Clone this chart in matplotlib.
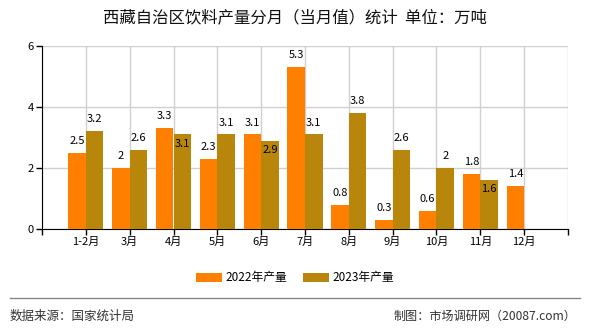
import matplotlib
matplotlib.use("Agg")
import matplotlib.pyplot as plt
import numpy as np

plt.rcParams['font.family'] = ['Noto Sans CJK SC', 'DejaVu Sans']

categories = ["1-2月", "3月", "4月", "5月", "6月", "7月", "8月", "9月", "10月", "11月", "12月"]
v2022 = [2.5, 2, 3.3, 2.3, 3.1, 5.3, 0.8, 0.3, 0.6, 1.8, 1.4]
v2023 = [3.2, 2.6, 3.1, 3.1, 2.9, 3.1, 3.8, 2.6, 2, 1.6, None]
yticks = [0, 2, 4, 6]

c22 = "#FF8000"
c23 = "#B8860B"

fig = plt.figure(figsize=(5.9, 3.3), dpi=100)
ax = fig.add_axes([42/590, 1-229/330, (568-42)/590, (229-46)/330])

x = np.arange(len(categories))
w = 0.4
ax.bar(x - w/2, v2022, width=w, color=c22, label="2022年产量", zorder=3)
x23 = [xi for xi, v in zip(x, v2023) if v is not None]
y23 = [v for v in v2023 if v is not None]
ax.bar(np.array(x23) + w/2, y23, width=w, color=c23, label="2023年产量", zorder=3)

def fmt(v):
    return ("%g" % v)

for xi, a in zip(x, v2022):
    ax.annotate(fmt(a), (xi - w/2, a), xytext=(0, 5), textcoords="offset points",
                ha="center", va="bottom", fontsize=8, zorder=4)
for xi, a, b in zip(x, v2022, v2023):
    if b is None:
        continue
    if a > b and a - b < 0.5:
        ax.annotate(fmt(b), (xi + w/2, b), xytext=(0, -3), textcoords="offset points",
                    ha="center", va="top", fontsize=8, zorder=4)
    else:
        ax.annotate(fmt(b), (xi + w/2, b), xytext=(0, 5), textcoords="offset points",
                    ha="center", va="bottom", fontsize=8, zorder=4)

ax.set_xlim(-1, len(categories))
ax.set_ylim(0, 6)
ax.set_yticks(yticks)
ax.set_yticklabels([str(t) for t in yticks], fontsize=8)
ticks = np.arange(-1, len(categories) + 1)
ax.set_xticks(ticks)
ax.set_xticklabels([""] + categories + [""], fontsize=8)
ax.tick_params(axis='both', length=4, width=1, color='black', pad=2)
ax.grid(True, color="#D0D0D0", linewidth=1, zorder=0)
ax.set_axisbelow(True)
for s in ["top", "right"]:
    ax.spines[s].set_visible(False)
ax.spines["left"].set_color("black")
ax.spines["bottom"].set_color("black")

fig.text(0.5, 1-18/330, "西藏自治区饮料产量分月（当月值）统计  单位：万吨", ha="center", va="center",
         fontsize=11.8, color="#111111")

leg = fig.legend(loc="center", bbox_to_anchor=(0.5, 1-278/330), ncol=2, frameon=False,
                 fontsize=8.5, handlelength=2.2, handleheight=0.8, columnspacing=1.3, handletextpad=0.3)

fig.add_artist(plt.Line2D([10/590, 580/590], [1-298/330, 1-298/330], color="#888888", linewidth=1))
fig.text(10/590, 1-316/330, "数据来源：国家统计局", ha="left", va="center", fontsize=9, color="#333333")
fig.text(576/590, 1-316/330, "制图：市场调研网（20087.com）", ha="right", va="center", fontsize=8.7, color="#333333")

fig.savefig("out.png", dpi=100)
